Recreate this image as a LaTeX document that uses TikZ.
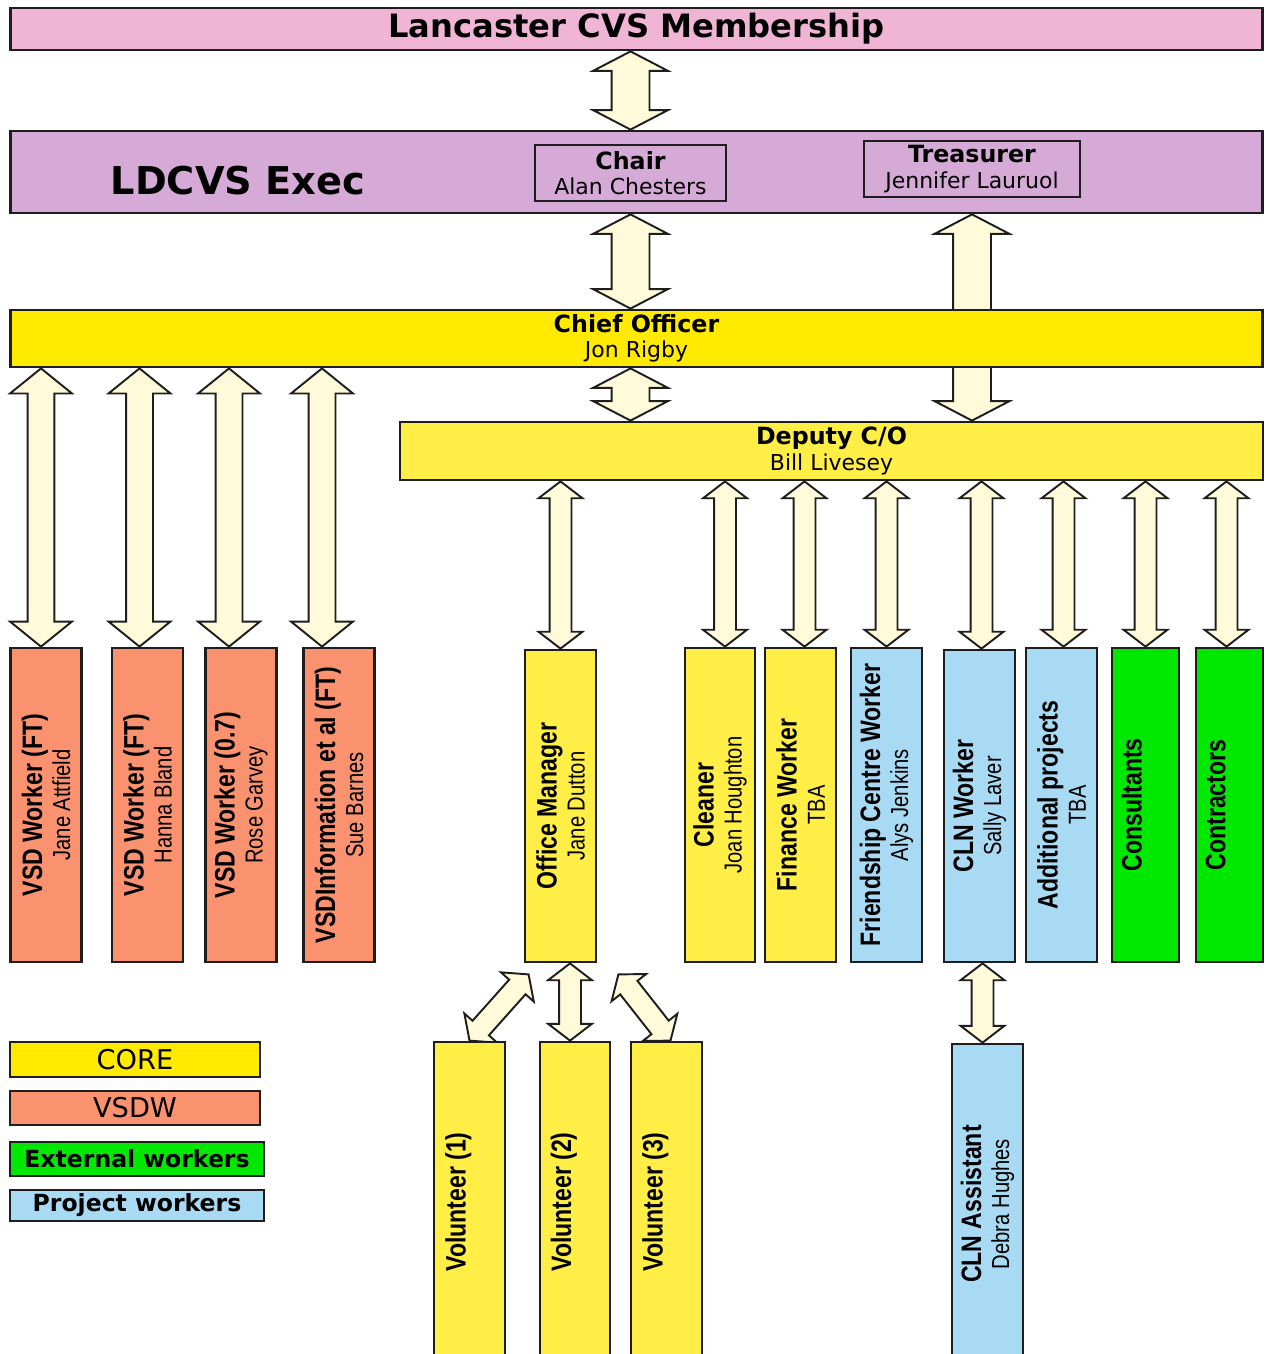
\documentclass[tikz,border=0pt]{standalone}
\usepackage{fontspec}
\setmainfont{DejaVu Sans}
\newfontfamily\narrowsf[FakeStretch=0.82]{Liberation Sans}
\usetikzlibrary{calc, shapes.arrows, backgrounds}
\definecolor{mempink}{RGB}{240,180,212}
\definecolor{execlav}{RGB}{214,170,214}
\definecolor{coreyel}{RGB}{255,234,0}
\definecolor{softyel}{RGB}{255,238,70}
\definecolor{vsdsal}{RGB}{250,146,112}
\definecolor{projblue}{RGB}{168,218,244}
\definecolor{extgreen}{RGB}{0,232,0}
\definecolor{arrcream}{RGB}{255,250,218}
\definecolor{edge}{RGB}{30,30,30}
\newcommand{\headfont}{\bfseries\fontsize{13.5}{16}\selectfont}
\newcommand{\namefont}{\fontsize{12.5}{14.5}\selectfont}
% fat double arrow between two points
\newcommand{\fatlink}[3]{%
  \path let \p1=(#2), \p2=(#3),
    \n1={veclen(\x2-\x1,\y2-\y1)}, \n2={atan2(\y2-\y1,\x2-\x1)} in
    node[#1, minimum height=\n1, rotate=\n2] at ($(\p1)!0.5!(\p2)$) {};}
\tikzset{
  box/.style={draw=edge, line width=1.6pt, inner sep=0pt, align=center},
  bar/.style={box, minimum width=25.06cm},
  vbox/.style={box, minimum width=1.42cm, minimum height=6.28cm},
  vtxt/.style 2 args={label={[rotate=90, align=center,
      font=\narrowsf\fontsize{14}{16}\selectfont]center:{{\fontsize{16}{18}\selectfont\bfseries #1}\\#2}}},
  vone/.style={vtxt={#1}{\mbox{}}},
  legbox/.style={box, minimum height=0.68cm},
  fat/.style={double arrow, draw=edge, fill=arrcream, line width=1.1pt, inner xsep=0pt},
  fatA/.style={fat, inner ysep=3.6mm, double arrow head extend=3.7mm, double arrow tip angle=125},
  fatB/.style={fat, inner ysep=2.5mm, double arrow head extend=3.5mm, double arrow tip angle=102},
  fatC/.style={fat, inner ysep=2mm, double arrow head extend=2.2mm, double arrow tip angle=105},
}
\begin{document}
\begin{tikzpicture}[x=0.02cm, y=-0.02cm]
  \useasboundingbox (0,0) rectangle (1266,1354);

  % membership and executive
  \node[bar, fill=mempink, minimum height=0.84cm,
        font=\bfseries\fontsize{18.3}{20}\selectfont] (mem) at (636.5,29) {Lancaster CVS Membership};
  \node[bar, fill=execlav, minimum height=1.64cm] (exec) at (636.5,172) {};
  \node[font=\bfseries\fontsize{21.8}{24}\selectfont] (execname) at (238,181) {LDCVS Exec};
  \node[box, fill=execlav, minimum width=3.82cm, minimum height=1.12cm,
        font=\namefont] (chair) at (630.5,173) {{\headfont Chair}\\Alan Chesters};
  \node[box, fill=execlav, minimum width=4.32cm, minimum height=1.12cm,
        font=\namefont] (treas) at (972,169) {{\headfont Treasurer}\\Jennifer Lauruol};

  % officers
  \node[bar, fill=coreyel, minimum height=1.14cm, font=\namefont] (chief) at (636.5,338.5)
    {{\headfont Chief Officer}\\Jon Rigby};
  \node[box, fill=softyel, minimum width=17.26cm, minimum height=1.16cm, font=\namefont]
    (dep) at (831.5,451) {{\headfont Deputy C/O}\\Bill Livesey};

  % VSD workers
  \node[vbox, fill=vsdsal, vtxt={VSD Worker (FT)}{Jane Attfield}] (vsd1) at (46,805) {};
  \node[vbox, fill=vsdsal, vtxt={VSD Worker (FT)}{Hanna Bland}] (vsd2) at (147.5,805) {};
  \node[vbox, fill=vsdsal, vtxt={VSD Worker (0.7)}{Rose Garvey}] (vsd3) at (241,805) {};
  \node[vbox, fill=vsdsal, vtxt={VSDInformation et al (FT)}{Sue Barnes}] (vsd4) at (339,805) {};

  % staff under deputy
  \node[vbox, fill=softyel, minimum height=6.24cm, vtxt={Office Manager}{Jane Dutton}] (om) at (560.5,806) {};
  \node[vbox, fill=softyel, minimum width=1.40cm, vtxt={Cleaner}{Joan Houghton}] (clean) at (720,805) {};
  \node[vbox, fill=softyel, vtxt={Finance Worker}{TBA}] (fin) at (800.5,805) {};
  \node[vbox, fill=projblue, vtxt={Friendship Centre Worker}{Alys Jenkins}] (friend) at (886.5,805) {};
  \node[vbox, fill=projblue, minimum height=6.24cm, vtxt={CLN Worker}{Sally Laver}] (clnw) at (979.5,806) {};
  \node[vbox, fill=projblue, vtxt={Additional projects}{TBA}] (addp) at (1061.5,805) {};
  \node[vbox, fill=extgreen, minimum width=1.34cm, vone={Consultants}] (cons) at (1145.5,805) {};
  \node[vbox, fill=extgreen, minimum width=1.34cm, vone={Contractors}] (contr) at (1229.5,805) {};

  % volunteers and assistant
  \node[vbox, fill=softyel, minimum height=6.4cm, vone={Volunteer (1)}] (vol1) at (469.5,1202) {};
  \node[vbox, fill=softyel, minimum width=1.40cm, minimum height=6.4cm, vone={Volunteer (2)}] (vol2) at (575,1202) {};
  \node[vbox, fill=softyel, minimum height=6.4cm, vone={Volunteer (3)}] (vol3) at (666.5,1202) {};
  \node[vbox, fill=projblue, minimum height=6.4cm, vtxt={CLN Assistant}{Debra Hughes}] (clna) at (987.5,1204) {};

  % legend
  \node[legbox, fill=coreyel, minimum width=5.0cm, minimum height=0.7cm,
        font=\fontsize{15.5}{17}\selectfont] (lcore) at (135,1059.5) {CORE};
  \node[legbox, fill=vsdsal, minimum width=5.0cm,
        font=\fontsize{15.5}{17}\selectfont] (lvsdw) at (135,1108) {VSDW};
  \node[legbox, fill=extgreen, minimum width=5.08cm,
        font=\bfseries\fontsize{13.4}{15}\selectfont] (lext) at (137,1159) {External workers};
  \node[legbox, fill=projblue, minimum width=5.08cm, minimum height=0.62cm,
        font=\bfseries\fontsize{13.4}{15}\selectfont] (lproj) at (137,1205.5) {Project workers};

  % block arrows
  \begin{pgfonlayer}{background}
    \fatlink{fatA}{mem.south -| chair}{exec.north -| chair}
    \fatlink{fatA}{exec.south -| chair}{chief.north -| chair}
    \fatlink{fatA}{exec.south -| treas}{dep.north -| treas}
    \fatlink{fatA}{chief.south -| chair}{dep.north -| chair}
    \fatlink{fatB}{$(chief.south -| vsd1)+(-5,0)$}{$(vsd1.north)+(-5,0)$}
    \fatlink{fatB}{$(chief.south -| vsd2)+(-8,0)$}{$(vsd2.north)+(-8,0)$}
    \fatlink{fatB}{$(chief.south -| vsd3)+(-12,0)$}{$(vsd3.north)+(-12,0)$}
    \fatlink{fatB}{$(chief.south -| vsd4)+(-17,0)$}{$(vsd4.north)+(-17,0)$}
    \fatlink{fatC}{dep.south -| om}{om.north}
    \fatlink{fatC}{$(dep.south -| clean)+(5,0)$}{$(clean.north)+(5,0)$}
    \fatlink{fatC}{$(dep.south -| fin)+(4,0)$}{$(fin.north)+(4,0)$}
    \fatlink{fatC}{dep.south -| friend}{friend.north}
    \fatlink{fatC}{$(dep.south -| clnw)+(2,0)$}{$(clnw.north)+(2,0)$}
    \fatlink{fatC}{$(dep.south -| addp)+(2,0)$}{$(addp.north)+(2,0)$}
    \fatlink{fatC}{dep.south -| cons}{cons.north}
    \fatlink{fatC}{$(dep.south -| contr)+(-3,0)$}{$(contr.north)+(-3,0)$}
    \fatlink{fatC}{$(om.south west)+(5,11)$}{vol1.north}
    \fatlink{fatC}{$(om.south -| vol2)+(-5,0)$}{$(vol2.north)+(-5,0)$}
    \fatlink{fatC}{$(om.south east)+(21,11)$}{$(vol3.north)+(4,0)$}
    \fatlink{fatC}{$(clnw.south)+(3,0)$}{$(clnw.south |- clna.north)+(3,0)$}
  \end{pgfonlayer}
\end{tikzpicture}
\end{document}
